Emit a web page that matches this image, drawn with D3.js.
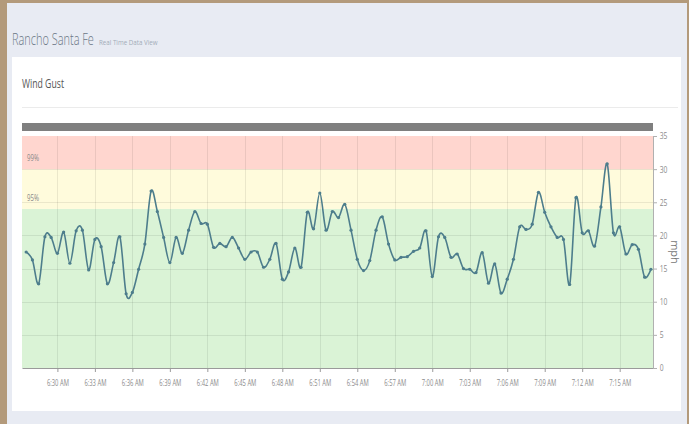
<!DOCTYPE html>
<html lang="en">
  <head>
    <meta charset="UTF-8" />
    <script src="https://d3js.org/d3.v7.min.js"></script>
    <title>Wind Gust</title>
    <style>
      html, body { margin: 0; padding: 0; background: #b39a7b; }
      #chart-container { width: 689px; height: 424px; }
      svg { display: block; }
    </style>
  </head>
  <body>
    <div id="chart-container"></div>

    <script>
      // sample times (30 s apart) and wind gust values in mph
      const times = [
        "06:27:30","06:28:00","06:28:30","06:29:00","06:29:30","06:30:00","06:30:30","06:31:00","06:31:30","06:32:00",
        "06:32:30","06:33:00","06:33:30","06:34:00","06:34:30","06:35:00","06:35:30","06:36:00","06:36:30","06:37:00",
        "06:37:30","06:38:00","06:38:30","06:39:00","06:39:30","06:40:00","06:40:30","06:41:00","06:41:30","06:42:00",
        "06:42:30","06:43:00","06:43:30","06:44:00","06:44:30","06:45:00","06:45:30","06:46:00","06:46:30","06:47:00",
        "06:47:30","06:48:00","06:48:30","06:49:00","06:49:30","06:50:00","06:50:30","06:51:00","06:51:30","06:52:00",
        "06:52:30","06:53:00","06:53:30","06:54:00","06:54:30","06:55:00","06:55:30","06:56:00","06:56:30","06:57:00",
        "06:57:30","06:58:00","06:58:30","06:59:00","06:59:30","07:00:00","07:00:30","07:01:00","07:01:30","07:02:00",
        "07:02:30","07:03:00","07:03:30","07:04:00","07:04:30","07:05:00","07:05:30","07:06:00","07:06:30","07:07:00",
        "07:07:30","07:08:00","07:08:30","07:09:00","07:09:30","07:10:00","07:10:30","07:11:00","07:11:30","07:12:00",
        "07:12:30","07:13:00","07:13:30","07:14:00","07:14:30","07:15:00","07:15:30","07:16:00","07:16:30","07:17:00",
        "07:17:30"
      ];
      const gust = [
        17.5, 16.3, 12.7, 19.8, 19.7, 17.3, 20.5, 15.8, 20.7, 20.8,
        14.8, 19.4, 18.3, 12.7, 15.9, 19.8, 11.2, 11.4, 14.9, 18.7,
        26.7, 23.6, 19.7, 15.9, 19.7, 17.3, 20.8, 23.6, 21.8, 21.7,
        18.2, 18.8, 18.3, 19.7, 18.1, 16.4, 17.5, 17.5, 15.2, 16.4,
        18.8, 13.4, 14.5, 18.1, 15.2, 23.5, 21.0, 26.4, 20.8, 23.6,
        22.7, 24.7, 20.8, 16.4, 14.7, 16.2, 20.8, 22.8, 18.7, 16.3,
        16.7, 16.8, 17.6, 18.1, 20.7, 13.8, 19.8, 19.7, 16.7, 17.2,
        15.0, 14.9, 14.4, 17.4, 12.8, 15.7, 11.3, 13.4, 16.4, 21.3,
        20.9, 21.7, 26.5, 23.5, 21.3, 19.7, 19.4, 12.6, 25.7, 20.4,
        20.7, 18.4, 24.3, 30.8, 20.4, 21.3, 17.2, 18.6, 17.9, 13.7,
        14.9
      ];

      // x ticks and labels
      const xTickTimes = ["06:30:00","06:33:00","06:36:00","06:39:00","06:42:00","06:45:00","06:48:00","06:51:00",
                          "06:54:00","06:57:00","07:00:00","07:03:00","07:06:00","07:09:00","07:12:00","07:15:00"];
      const xTickLabels = ["6:30 AM","6:33 AM","6:36 AM","6:39 AM","6:42 AM","6:45 AM","6:48 AM","6:51 AM",
                           "6:54 AM","6:57 AM","7:00 AM","7:03 AM","7:06 AM","7:09 AM","7:12 AM","7:15 AM"];
      const yTicks = [0, 5, 10, 15, 20, 25, 30, 35];

      // threshold bands
      const bandLabels = ["", "95%", "99%"];
      const bandFrom = [0, 24, 30];
      const bandTo = [24, 30, 35];
      const bandColors = ["#daf3d6", "#fffbdc", "#ffd6cf"];

      const xDomain = ["06:27:10", "07:17:40"];

      const parse = d3.timeParse("%H:%M:%S");
      const data = times.map((t, i) => ({ date: parse(t), value: gust[i] }));

      const W = 689, H = 424;
      const plot = { left: 22, right: 653, top: 136, bottom: 368 };

      const svg = d3
        .select("#chart-container")
        .append("svg")
        .attr("width", W)
        .attr("height", H);

      // page background + panel
      svg.append("rect").attr("x", 7).attr("y", 3).attr("width", W - 9).attr("height", H - 3).attr("fill", "#e8ebf3");
      svg.append("rect").attr("x", 12).attr("y", 57).attr("width", 669).attr("height", 354).attr("fill", "#ffffff");

      // narrow heading fonts: squeeze the glyphs horizontally
      svg.append("text")
        .attr("transform", "translate(12,45) scale(0.7,1)")
        .attr("textLength", 117).attr("lengthAdjust", "spacingAndGlyphs")
        .style("font-family", '"Open Sans", sans-serif')
        .style("font-size", "16px")
        .style("font-weight", "300")
        .attr("fill", "#6b7785")
        .text("Rancho Santa Fe");
      svg.append("text")
        .attr("transform", "translate(99,45) scale(0.75,1)")
        .attr("textLength", 78).attr("lengthAdjust", "spacingAndGlyphs")
        .style("font-family", '"Open Sans", sans-serif')
        .style("font-size", "8px")
        .attr("fill", "#a2abb8")
        .text("Real Time Data View");

      svg.append("text")
        .attr("transform", "translate(22,88) scale(0.75,1)")
        .attr("textLength", 56).attr("lengthAdjust", "spacingAndGlyphs")
        .style("font-family", '"Open Sans", sans-serif')
        .style("font-size", "12px")
        .attr("fill", "#555")
        .text("Wind Gust");
      svg.append("line")
        .attr("x1", 22).attr("x2", 678).attr("y1", 107.5).attr("y2", 107.5)
        .attr("stroke", "#ebebeb");

      // grey bar above the plot
      svg.append("rect")
        .attr("x", plot.left).attr("y", 123)
        .attr("width", plot.right - plot.left).attr("height", 8)
        .attr("fill", "#7f7f7f");

      const x = d3.scaleTime()
        .domain(xDomain.map(parse))
        .range([plot.left, plot.right]);
      const y = d3.scaleLinear()
        .domain([0, 35])
        .range([plot.bottom, plot.top]);

      // bands
      svg.append("g")
        .selectAll("rect")
        .data(bandFrom)
        .join("rect")
        .attr("x", plot.left)
        .attr("width", plot.right - plot.left)
        .attr("y", (d, i) => y(bandTo[i]))
        .attr("height", (d, i) => y(bandFrom[i]) - y(bandTo[i]))
        .attr("fill", (d, i) => bandColors[i]);

      // grid
      const grid = svg.append("g").attr("stroke", "#000").attr("stroke-opacity", 0.08);
      grid.selectAll(".gx")
        .data(xTickTimes.map(parse))
        .join("line")
        .attr("x1", (d) => Math.round(x(d)) + 0.5).attr("x2", (d) => Math.round(x(d)) + 0.5)
        .attr("y1", plot.top).attr("y2", plot.bottom);
      grid.selectAll(".gy")
        .data(yTicks.filter((v) => v > 0 && v < 35))
        .join("line")
        .attr("x1", plot.left).attr("x2", plot.right)
        .attr("y1", (d) => Math.round(y(d)) + 0.5).attr("y2", (d) => Math.round(y(d)) + 0.5);

      // band labels sit just above the lower edge of their band
      svg.append("g")
        .selectAll("text")
        .data(bandLabels)
        .join("text")
        .attr("x", 27)
        .attr("y", (d, i) => y(bandFrom[i]) - 8)
        .attr("textLength", (d) => (d ? 12 : 0))
        .attr("lengthAdjust", "spacingAndGlyphs")
        .style("font-family", '"Open Sans", sans-serif')
        .style("font-size", "9px")
        .attr("fill", "#8a8a8a")
        .text((d) => d);

      // axes
      const axisFont = '"Open Sans", sans-serif';
      const xAxis = svg.append("g")
        .attr("transform", "translate(0," + plot.bottom + ")")
        .call(
          d3.axisBottom(x)
            .tickValues(xTickTimes.map(parse))
            .tickFormat((d, i) => xTickLabels[i])
            .tickSizeInner(4)
            .tickSizeOuter(0)
            .tickPadding(8)
        );
      xAxis.select(".domain").attr("stroke", "#9a9a9a");
      xAxis.selectAll(".tick line").attr("stroke", "#9a9a9a");
      xAxis.selectAll("text")
        .attr("textLength", 22).attr("lengthAdjust", "spacingAndGlyphs")
        .style("font-family", axisFont).style("font-size", "9px").attr("fill", "#8c8c8c");

      const yAxis = svg.append("g")
        .attr("transform", "translate(" + plot.right + ",0)")
        .call(
          d3.axisRight(y)
            .tickValues(yTicks)
            .tickSizeInner(4)
            .tickSizeOuter(0)
            .tickPadding(3)
        );
      yAxis.select(".domain").attr("stroke", "#b0b0b0");
      yAxis.selectAll(".tick line").attr("stroke", "#b0b0b0");
      yAxis.selectAll("text")
        .style("font-family", axisFont).style("font-size", "9px").attr("fill", "#8c8c8c")
        .attr("transform", "scale(0.75,1)")
        .attr("x", 9);

      svg.append("text")
        .attr("transform", "translate(671," + (plot.top + plot.bottom) / 2 + ") rotate(90)")
        .attr("text-anchor", "middle")
        .style("font-family", axisFont)
        .style("font-size", "11px")
        .attr("fill", "#777")
        .text("mph");

      // line + markers
      const line = d3.line()
        .x((d) => x(d.date))
        .y((d) => y(d.value))
        .curve(d3.curveCatmullRom.alpha(0));

      svg.append("path")
        .datum(data)
        .attr("fill", "none")
        .attr("stroke", "#4d7d8c")
        .attr("stroke-width", 1.6)
        .attr("d", line);

      svg.append("g")
        .selectAll("circle")
        .data(data)
        .join("circle")
        .attr("cx", (d) => x(d.date))
        .attr("cy", (d) => y(d.value))
        .attr("r", 1.6)
        .attr("fill", "#4d7d8c");
    </script>
  </body>
</html>
